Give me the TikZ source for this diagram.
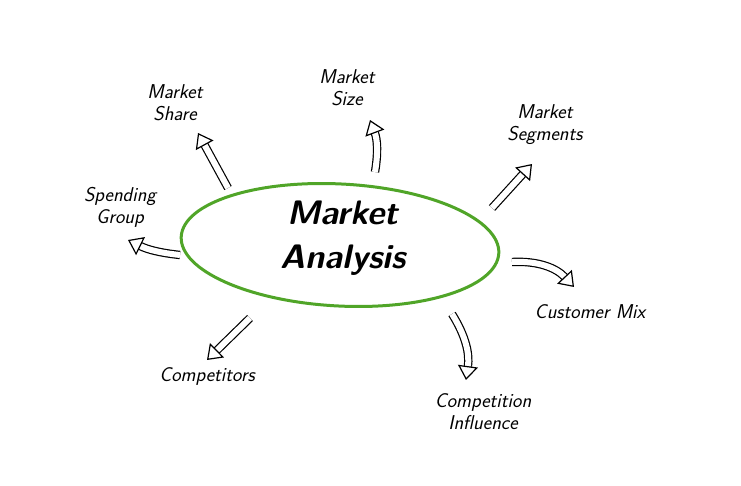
\documentclass[tikz,border=0pt]{standalone}
\usepackage{tikz}
\usetikzlibrary{arrows.meta,shapes.geometric}
\begin{document}
\begin{tikzpicture}[x=1pt,y=-1pt,
    every node/.style = {align=center, font=\sffamily\itshape\fontsize{20}{22}\selectfont, inner sep=1pt},
    hollow/.style = {draw=black, double=white, line width=1.2pt, double distance=6pt,
                     -{Triangle[open, fill=white, width=20pt, length=14pt, line width=1.2pt]}}
  ]
  \useasboundingbox (0,0) rectangle (741,486);
  \node (analysis) [ellipse, draw={rgb,255:red,80;green,165;blue,40}, line width=3pt,
                    minimum width=318pt, minimum height=122pt, rotate=-3] at (340,245) {};
  \node (title) at (343,238) [font=\sffamily\itshape\bfseries\fontsize{34}{44}\selectfont] {Market\\Analysis};

  \node (share)    at (175,103) {Market\\Share};
  \node (size)     at (347,88)  {Market\\Size};
  \node (segments) at (545,125) {Market\\Segments};
  \node (spending) at (120,207) {Spending\\Group};
  \node (mix)      at (590,312) {Customer Mix};
  \node (compet)   at (207,376) {Competitors};
  \node (influ)    at (483,412) {Competition\\Influence};

  \coordinate (a1) at (228,188); \coordinate (b1) at (198,133);
  \coordinate (a2) at (375,172); \coordinate (b2) at (370,120);
  \coordinate (a3) at (492,208); \coordinate (b3) at (532,164);
  \coordinate (a4) at (180,255); \coordinate (b4) at (128,240);
  \coordinate (a5) at (512,262); \coordinate (b5) at (574,287);
  \coordinate (a6) at (250,318); \coordinate (b6) at (207,360);
  \coordinate (a7) at (452,314); \coordinate (b7) at (466,380);

  \draw[hollow] (a1) to (b1);
  \draw[hollow] (a2) to[bend right=15] (b2);
  \draw[hollow] (a3) to (b3);
  \draw[hollow] (a4) to[bend left=10] (b4);
  \draw[hollow] (a5) to[bend left=25] (b5);
  \draw[hollow] (a6) to (b6);
  \draw[hollow] (a7) to[bend left=20] (b7);
\end{tikzpicture}
\end{document}
